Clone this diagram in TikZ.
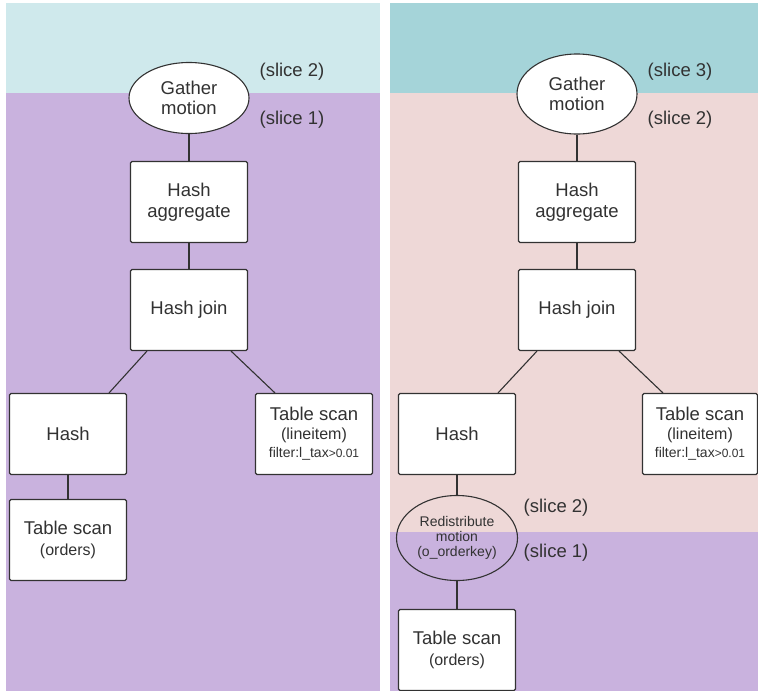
\documentclass[tikz,border=0pt]{standalone}
\usepackage{fontspec}
\setmainfont{Liberation Sans}
\usetikzlibrary{shapes.geometric}
\definecolor{lcyan}{RGB}{207,233,236}
\definecolor{tealbg}{RGB}{165,212,217}
\definecolor{pinkbg}{RGB}{238,216,215}
\definecolor{purplebg}{RGB}{201,178,222}
\definecolor{ink}{RGB}{50,50,50}
\begin{document}
\begin{tikzpicture}[x=1pt,y=-1pt,
  opbox/.style={draw=ink, line width=1.1pt, fill=white, rounded corners=1.5pt,
    minimum width=117pt, minimum height=81pt, inner sep=0pt, align=center,
    text=ink, font=\fontsize{18.5}{21}\selectfont},
  opell/.style={ellipse, draw=ink, line width=1.1pt, fill=white, inner sep=0pt,
    align=center, text=ink, font=\fontsize{18.5}{20}\selectfont},
  slicelbl/.style={text=ink, font=\fontsize{18.5}{21}\selectfont, inner sep=0pt},
  link/.style={draw=ink, line width=1.1pt}]
\useasboundingbox (0,0) rectangle (758,691);
\fill[white] (0,0) rectangle (758,691);
% left panel
\fill[lcyan] (6,3) rectangle (380,93);
\fill[purplebg] (6,93) rectangle (380,691);
% right panel
\fill[tealbg] (390,3) rectangle (758,93);
\fill[pinkbg] (390,93) rectangle (758,532);
\fill[purplebg] (390,532) rectangle (758,691);

% ---------- left plan ----------
\node[opell, minimum width=120pt, minimum height=71pt] (lg) at (189,98) {Gather\\motion};
\node[slicelbl] (ls2) at (292,72) {(slice 2)};
\node[slicelbl] (ls1) at (292,120) {(slice 1)};
\node[opbox] (lagg) at (189,202) {Hash\\aggregate};
\node[opbox] (lhj) at (189,310) {Hash join};
\node[opbox] (lh) at (68,434) {Hash};
\node[opbox] (lli) at (314,434) {Table scan\\[-2pt]{\fontsize{16}{19}\selectfont (lineitem)}\\[-3pt]{\fontsize{14}{16}\selectfont filter:l\_tax{\fontsize{12}{14}\selectfont >0.01}}};
\node[opbox] (lts) at (68,540) {Table scan\\{\fontsize{16}{19}\selectfont (orders)}};
\draw[link] (lg) -- (lagg);
\draw[link] (lagg) -- (lhj);
\draw[link] ([xshift=-42pt]lhj.south) -- ([xshift=41pt]lh.north);
\draw[link] ([xshift=42pt]lhj.south) -- ([xshift=-39pt]lli.north);
\draw[link] (lh) -- (lts);

% ---------- right plan ----------
\node[opell, minimum width=120pt, minimum height=80pt] (rg) at (577,94) {Gather\\motion};
\node[slicelbl] (rs3) at (680,72) {(slice 3)};
\node[slicelbl] (rs2) at (680,120) {(slice 2)};
\node[opbox] (ragg) at (577,202) {Hash\\aggregate};
\node[opbox] (rhj) at (577,310) {Hash join};
\node[opbox] (rh) at (457,434) {Hash};
\node[opbox, minimum width=115pt] (rli) at (700,434) {Table scan\\[-2pt]{\fontsize{16}{19}\selectfont (lineitem)}\\[-3pt]{\fontsize{14}{16}\selectfont filter:l\_tax{\fontsize{12}{14}\selectfont >0.01}}};
\node[opell, fill=none, minimum width=121pt, minimum height=85pt, font=\fontsize{14}{15}\selectfont] (rred) at (457,538) {Redistribute\\motion\\(o\_orderkey)};
\node[slicelbl] (rs2b) at (556,508) {(slice 2)};
\node[slicelbl] (rs1b) at (556,553) {(slice 1)};
\node[opbox] (rts) at (457,650) {Table scan\\{\fontsize{16}{19}\selectfont (orders)}};
\draw[link] (rg) -- (ragg);
\draw[link] (ragg) -- (rhj);
\draw[link] ([xshift=-40pt]rhj.south) -- ([xshift=41pt]rh.north);
\draw[link] ([xshift=42pt]rhj.south) -- ([xshift=-37pt]rli.north);
\draw[link] (rh) -- (rred);
\draw[link] (rred) -- (rts);
\end{tikzpicture}
\end{document}
